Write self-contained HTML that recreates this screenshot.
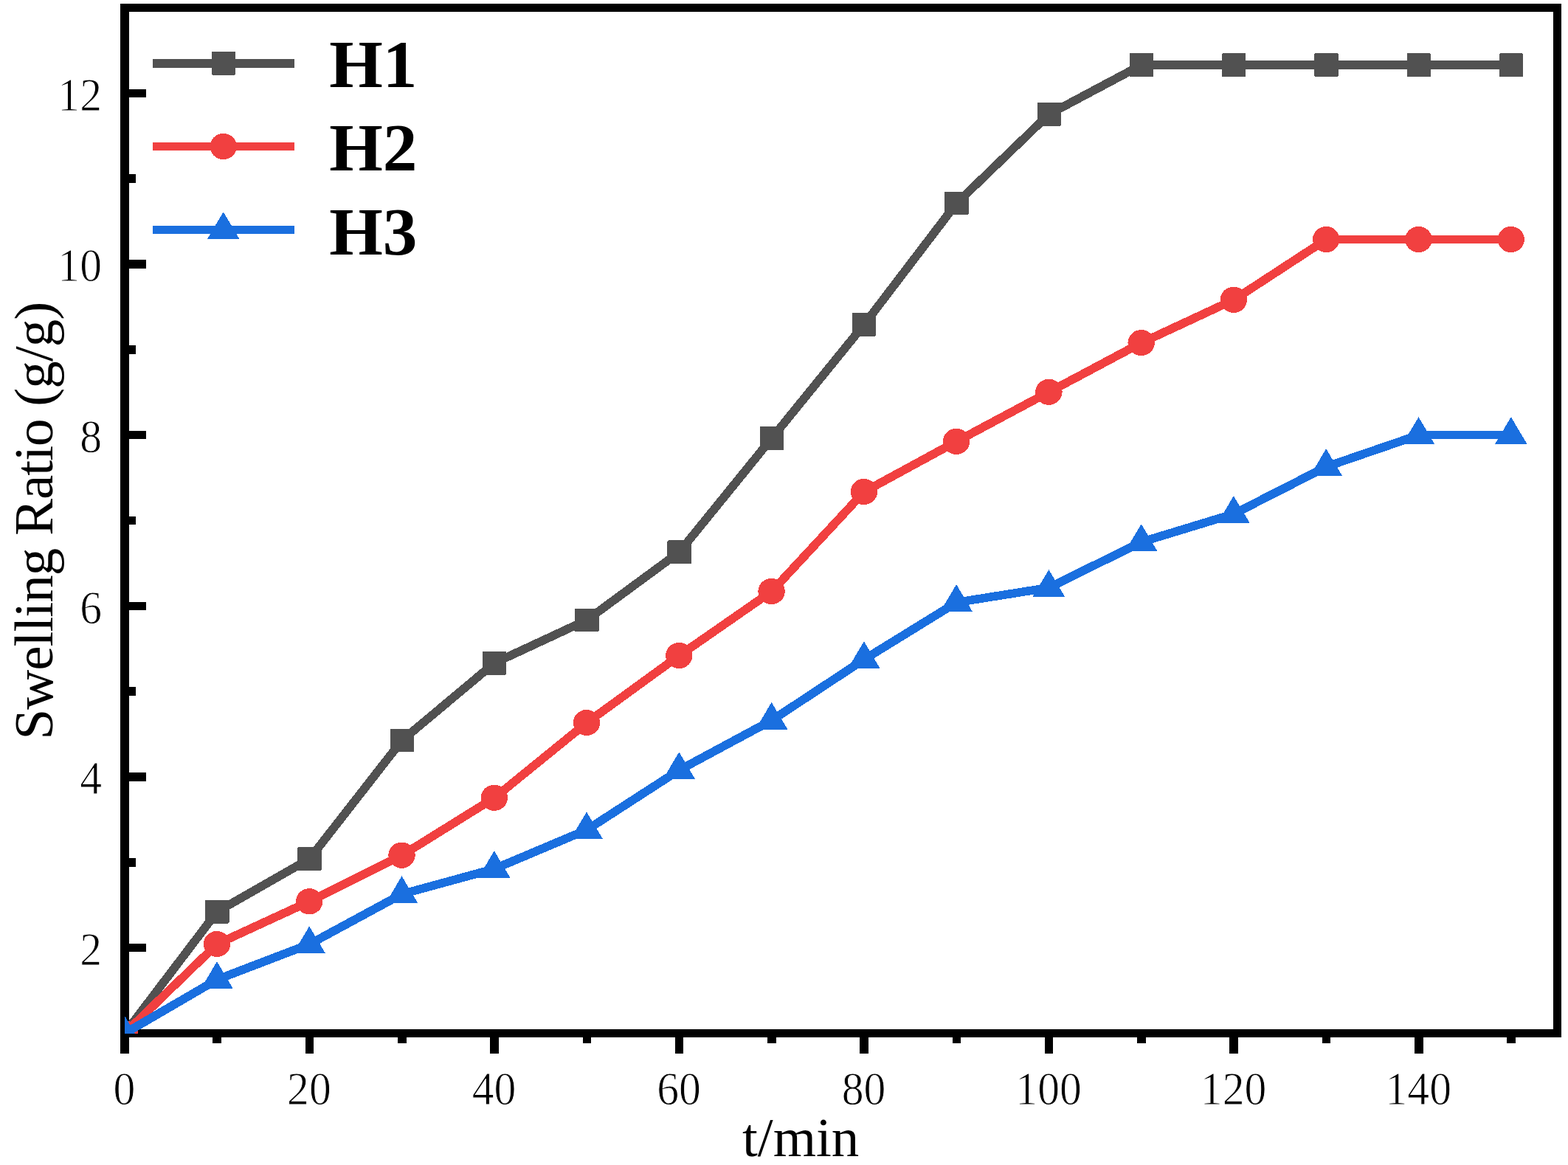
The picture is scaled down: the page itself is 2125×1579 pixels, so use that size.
<!DOCTYPE html>
<html lang="en"><head><meta charset="utf-8"><title>Swelling Ratio vs t/min</title>
<style>
html,body{margin:0;padding:0;background:#fff;}
body{width:2125px;height:1579px;overflow:hidden;}
svg{display:block;}
.tk{font-family:"Liberation Serif",serif;font-size:62.5px;fill:#000;stroke:#fff;stroke-width:0.9px;}
.ax{font-family:"Liberation Serif",serif;font-size:75px;fill:#000;}
.ay{letter-spacing:-0.98px;}
.lg{font-family:"Liberation Serif",serif;font-size:91px;font-weight:bold;fill:#000;}
</style></head><body>
<svg width="2125" height="1579" viewBox="0 0 2125 1579">
<rect x="0" y="0" width="2125" height="1579" fill="#fff"/>
<defs><clipPath id="plot"><rect x="169" y="10" width="1942" height="1391"/></clipPath></defs>
<g fill="#000">
<rect x="163" y="5" width="12" height="1423"/>
<rect x="2105" y="5" width="11" height="1401"/>
<rect x="163" y="5" width="1953" height="11"/>
<rect x="163" y="1395" width="1953" height="11"/>
<rect x="288" y="1406" width="12" height="8"/>
<rect x="414" y="1406" width="11" height="22"/>
<rect x="539" y="1406" width="12" height="8"/>
<rect x="664" y="1406" width="12" height="22"/>
<rect x="790" y="1406" width="11" height="8"/>
<rect x="915" y="1406" width="11" height="22"/>
<rect x="1040" y="1406" width="12" height="8"/>
<rect x="1165" y="1406" width="12" height="22"/>
<rect x="1291" y="1406" width="11" height="8"/>
<rect x="1416" y="1406" width="11" height="22"/>
<rect x="1541" y="1406" width="12" height="8"/>
<rect x="1666" y="1406" width="12" height="22"/>
<rect x="1792" y="1406" width="11" height="8"/>
<rect x="1917" y="1406" width="12" height="22"/>
<rect x="2042" y="1406" width="12" height="8"/>
<rect x="175" y="1279" width="23" height="11"/>
<rect x="175" y="1163" width="9" height="12"/>
<rect x="175" y="1047" width="23" height="12"/>
<rect x="175" y="931" width="9" height="12"/>
<rect x="175" y="816" width="23" height="11"/>
<rect x="175" y="700" width="9" height="11"/>
<rect x="175" y="584" width="23" height="11"/>
<rect x="175" y="468" width="9" height="12"/>
<rect x="175" y="352" width="23" height="12"/>
<rect x="175" y="236" width="9" height="12"/>
<rect x="175" y="121" width="23" height="11"/>
</g>
<g class="tk" text-anchor="middle">
<text transform="translate(168.4 1496.7) scale(0.955 1)">0</text>
<text transform="translate(418.9 1496.7) scale(0.955 1)">20</text>
<text transform="translate(669.5 1496.7) scale(0.955 1)">40</text>
<text transform="translate(920 1496.7) scale(0.955 1)">60</text>
<text transform="translate(1170.6 1496.7) scale(0.955 1)">80</text>
<text transform="translate(1421.1 1496.7) scale(0.955 1)">100</text>
<text transform="translate(1671.6 1496.7) scale(0.955 1)">120</text>
<text transform="translate(1922.2 1496.7) scale(0.955 1)">140</text>
</g>
<g class="tk" text-anchor="end">
<text transform="translate(138 1307.8) scale(0.955 1)">2</text>
<text transform="translate(138 1076.1) scale(0.955 1)">4</text>
<text transform="translate(138 844.5) scale(0.955 1)">6</text>
<text transform="translate(138 612.8) scale(0.955 1)">8</text>
<text transform="translate(138 381.1) scale(0.955 1)">10</text>
<text transform="translate(138 149.5) scale(0.955 1)">12</text>
</g>
<text class="ax" x="1006" y="1567">t/min</text>
<text class="ax ay" transform="translate(71.3 1002.6) rotate(-90)">Swelling Ratio (g/g)</text>
<g clip-path="url(#plot)" shape-rendering="crispEdges">
<polyline points="169,1400.6 294.3,1235.6 419.5,1164.1 544.8,1003.5 670.1,898.6 795.3,840.4 920.6,748.3 1045.9,594 1171.2,439.8 1296.4,275.5 1421.7,154.8 1547,88.1 1672.2,88.2 1797.5,88.2 1922.8,88.2 2048.1,88.2" fill="none" stroke="#515151" stroke-width="11.55" stroke-linejoin="round"/>
<rect x="152.8" y="1384.7" width="32.4" height="31.8" rx="1.5" fill="#515151"/>
<rect x="278.1" y="1219.7" width="32.4" height="31.8" rx="1.5" fill="#515151"/>
<rect x="403.3" y="1148.2" width="32.4" height="31.8" rx="1.5" fill="#515151"/>
<rect x="528.6" y="987.6" width="32.4" height="31.8" rx="1.5" fill="#515151"/>
<rect x="653.9" y="882.7" width="32.4" height="31.8" rx="1.5" fill="#515151"/>
<rect x="779.1" y="824.5" width="32.4" height="31.8" rx="1.5" fill="#515151"/>
<rect x="904.4" y="732.4" width="32.4" height="31.8" rx="1.5" fill="#515151"/>
<rect x="1029.7" y="578.1" width="32.4" height="31.8" rx="1.5" fill="#515151"/>
<rect x="1155" y="423.9" width="32.4" height="31.8" rx="1.5" fill="#515151"/>
<rect x="1280.2" y="259.6" width="32.4" height="31.8" rx="1.5" fill="#515151"/>
<rect x="1405.5" y="138.9" width="32.4" height="31.8" rx="1.5" fill="#515151"/>
<rect x="1530.8" y="72.2" width="32.4" height="31.8" rx="1.5" fill="#515151"/>
<rect x="1656" y="72.3" width="32.4" height="31.8" rx="1.5" fill="#515151"/>
<rect x="1781.3" y="72.3" width="32.4" height="31.8" rx="1.5" fill="#515151"/>
<rect x="1906.6" y="72.3" width="32.4" height="31.8" rx="1.5" fill="#515151"/>
<rect x="2031.9" y="72.3" width="32.4" height="31.8" rx="1.5" fill="#515151"/>
<polyline points="169,1400.6 294.3,1279.5 419.5,1221.8 544.8,1159.2 670.1,1081.3 795.3,979.5 920.6,888.5 1045.9,801.5 1171.2,666.5 1296.4,598.3 1421.7,531.3 1547,464.6 1672.2,406.3 1797.5,324.5 1922.8,324.5 2048.1,324.5" fill="none" stroke="#F14040" stroke-width="11.55" stroke-linejoin="round"/>
<ellipse cx="168.7" cy="1400.6" rx="18.2" ry="17.6" fill="#F14040"/>
<ellipse cx="294" cy="1279.5" rx="18.2" ry="17.6" fill="#F14040"/>
<ellipse cx="419.2" cy="1221.8" rx="18.2" ry="17.6" fill="#F14040"/>
<ellipse cx="544.5" cy="1159.2" rx="18.2" ry="17.6" fill="#F14040"/>
<ellipse cx="669.8" cy="1081.3" rx="18.2" ry="17.6" fill="#F14040"/>
<ellipse cx="795" cy="979.5" rx="18.2" ry="17.6" fill="#F14040"/>
<ellipse cx="920.3" cy="888.5" rx="18.2" ry="17.6" fill="#F14040"/>
<ellipse cx="1045.6" cy="801.5" rx="18.2" ry="17.6" fill="#F14040"/>
<ellipse cx="1170.9" cy="666.5" rx="18.2" ry="17.6" fill="#F14040"/>
<ellipse cx="1296.1" cy="598.3" rx="18.2" ry="17.6" fill="#F14040"/>
<ellipse cx="1421.4" cy="531.3" rx="18.2" ry="17.6" fill="#F14040"/>
<ellipse cx="1546.7" cy="464.6" rx="18.2" ry="17.6" fill="#F14040"/>
<ellipse cx="1671.9" cy="406.3" rx="18.2" ry="17.6" fill="#F14040"/>
<ellipse cx="1797.2" cy="324.5" rx="18.2" ry="17.6" fill="#F14040"/>
<ellipse cx="1922.5" cy="324.5" rx="18.2" ry="17.6" fill="#F14040"/>
<ellipse cx="2047.8" cy="324.5" rx="18.2" ry="17.6" fill="#F14040"/>
<polyline points="169,1400.6 294.3,1327.6 419.5,1279.7 544.8,1211.8 670.1,1177.6 795.3,1124.7 920.6,1043.7 1045.9,976.3 1171.2,893.7 1296.4,816.5 1421.7,796.5 1547,734.6 1672.2,696.5 1797.5,632.6 1922.8,589.6 2048.1,589.6" fill="none" stroke="#1A6FDF" stroke-width="11.55" stroke-linejoin="round"/>
<polygon points="168.7,1376.2 190.4,1412.8 147,1412.8" fill="#1A6FDF"/>
<polygon points="294,1303.2 315.7,1339.8 272.3,1339.8" fill="#1A6FDF"/>
<polygon points="419.2,1255.3 440.9,1291.9 397.5,1291.9" fill="#1A6FDF"/>
<polygon points="544.5,1187.4 566.2,1224 522.8,1224" fill="#1A6FDF"/>
<polygon points="669.8,1153.2 691.5,1189.8 648.1,1189.8" fill="#1A6FDF"/>
<polygon points="795,1100.3 816.8,1136.9 773.3,1136.9" fill="#1A6FDF"/>
<polygon points="920.3,1019.3 942,1055.9 898.6,1055.9" fill="#1A6FDF"/>
<polygon points="1045.6,951.9 1067.3,988.5 1023.9,988.5" fill="#1A6FDF"/>
<polygon points="1170.9,869.3 1192.6,905.9 1149.2,905.9" fill="#1A6FDF"/>
<polygon points="1296.1,792.1 1317.8,828.7 1274.4,828.7" fill="#1A6FDF"/>
<polygon points="1421.4,772.1 1443.1,808.7 1399.7,808.7" fill="#1A6FDF"/>
<polygon points="1546.7,710.2 1568.4,746.8 1525,746.8" fill="#1A6FDF"/>
<polygon points="1671.9,672.1 1693.6,708.7 1650.2,708.7" fill="#1A6FDF"/>
<polygon points="1797.2,608.2 1818.9,644.8 1775.5,644.8" fill="#1A6FDF"/>
<polygon points="1922.5,565.2 1944.2,601.8 1900.8,601.8" fill="#1A6FDF"/>
<polygon points="2047.8,565.2 2069.5,601.8 2026.1,601.8" fill="#1A6FDF"/>
</g>
<g shape-rendering="crispEdges">
<line x1="207" y1="85.8" x2="399" y2="85.8" stroke="#515151" stroke-width="11.55"/>
<rect x="286.8" y="69.9" width="32.4" height="31.8" rx="1.5" fill="#515151"/>
</g>
<text class="lg" transform="translate(446.2 118.3) scale(1.025 1)">H1</text>
<g shape-rendering="crispEdges">
<line x1="207" y1="198.5" x2="399" y2="198.5" stroke="#F14040" stroke-width="11.55"/>
<ellipse cx="302.7" cy="198.5" rx="18.2" ry="17.6" fill="#F14040"/>
</g>
<text class="lg" transform="translate(446.2 231.3) scale(1.025 1)">H2</text>
<g shape-rendering="crispEdges">
<line x1="207" y1="311.6" x2="399" y2="311.6" stroke="#1A6FDF" stroke-width="11.55"/>
<polygon points="302.7,287.2 324.4,323.8 281,323.8" fill="#1A6FDF"/>
</g>
<text class="lg" transform="translate(446.2 344.6) scale(1.025 1)">H3</text>
</svg>
</body></html>
